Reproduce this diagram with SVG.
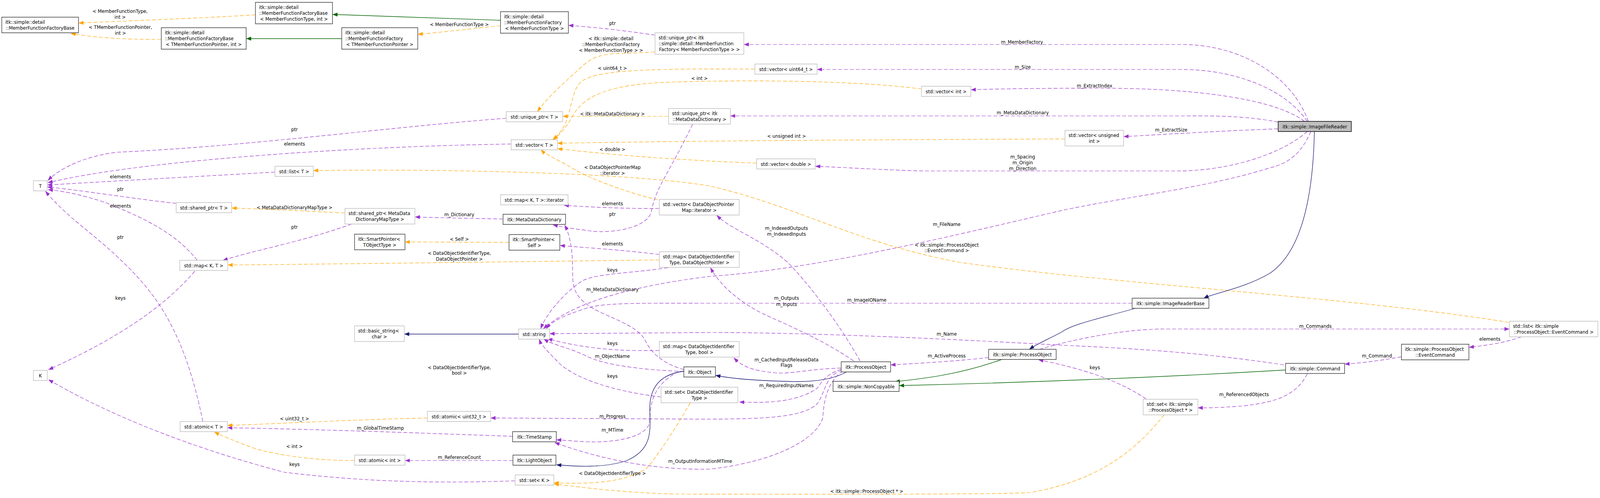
<svg xmlns="http://www.w3.org/2000/svg" width="4504" height="1276" viewBox="0 0 4504 1276">
<defs>
<style>
text{font-family:"DejaVu Sans","Liberation Sans",sans-serif;font-size:12.8px;fill:#000}
.c{text-anchor:middle}
.s{text-anchor:start}
rect,path{vector-effect:non-scaling-stroke}
.nl rect{fill:#fff;stroke:#bfbfbf;stroke-width:1.4}
.nd rect{fill:#fff;stroke:#3c3c3c;stroke-width:1.4}
.nf rect{fill:#bfbfbf;stroke:#000;stroke-width:1.4}
.p{fill:none;stroke:#9a32cd;stroke-width:1.2;stroke-dasharray:10,5;marker-end:url(#ap)}
.o{fill:none;stroke:#ffa500;stroke-width:1.2;stroke-dasharray:10,5;marker-end:url(#ao)}
.g{fill:none;stroke:#006400;stroke-width:1.4;marker-end:url(#ag)}
.b{fill:none;stroke:#191970;stroke-width:1.3;marker-end:url(#ab)}
</style>
<marker id="ap" viewBox="0 0 14 10" refX="13" refY="5" markerWidth="14" markerHeight="10" markerUnits="userSpaceOnUse" orient="auto"><path d="M0,0L14,5L0,10z" fill="#9a32cd"/></marker>
<marker id="ao" viewBox="0 0 14 10" refX="13" refY="5" markerWidth="14" markerHeight="10" markerUnits="userSpaceOnUse" orient="auto"><path d="M0,0L14,5L0,10z" fill="#ffa500"/></marker>
<marker id="ag" viewBox="0 0 14 10" refX="13" refY="5" markerWidth="14" markerHeight="10" markerUnits="userSpaceOnUse" orient="auto"><path d="M0,0L14,5L0,10z" fill="#006400"/></marker>
<marker id="ab" viewBox="0 0 14 10" refX="13" refY="5" markerWidth="14" markerHeight="10" markerUnits="userSpaceOnUse" orient="auto"><path d="M0,0L14,5L0,10z" fill="#191970"/></marker>
</defs>
<rect width="4504" height="1276" fill="#fff"/>
<g id="diagram" transform="scale(0.909414,1)">
<g id="edges">
<path class="o" d="M719,38 C600,45 400,52 222,59"/>
<path class="o" d="M454,101 C360,101 290,99 200,86"/>
<path class="g" d="M1409,52 L937,37"/>
<path class="g" d="M962,99 L694,99"/>
<path class="o" d="M1409,66 C1330,73 1250,82 1177,88"/>
<path class="p" d="M1844,90 C1770,80 1680,70 1601,65"/>
<path class="o" d="M1843,133 C1750,140 1690,128 1645,165 C1590,210 1540,250 1513,286"/>
<path class="p" d="M3683,311 C3640,200 3500,114 3326,114 L2095,114"/>
<path class="o" d="M2125,177 C1800,175 1660,180 1630,215 C1600,250 1612,320 1556,357"/>
<path class="p" d="M3680,311 C3620,230 3480,178 3326,178 L2301,178"/>
<path class="o" d="M2594,228 C2400,205 2100,205 1900,210 C1700,215 1640,250 1610,300 C1595,325 1575,345 1558,358"/>
<path class="p" d="M3672,311 C3600,260 3400,226 3100,226 C2900,226 2800,228 2734,230"/>
<path class="o" d="M1882,298 L1585,298"/>
<path class="p" d="M3598,313 C3500,295 3400,297 3326,297 L2057,297"/>
<path class="p" d="M1425,303 C1100,325 700,375 330,390 C240,400 170,430 135,462"/>
<path class="p" d="M1439,369 C1000,375 400,410 135,468"/>
<path class="p" d="M774,441 C500,455 300,465 134,474"/>
<path class="p" d="M496,521 C380,510 250,490 134,479"/>
<path class="p" d="M555,667 C490,590 380,550 300,520 C220,495 160,488 136,486"/>
<path class="p" d="M571,1080 C520,850 440,760 370,693 C270,600 190,560 128,490"/>
<path class="o" d="M2998,356 C2500,358 2000,360 1570,367"/>
<path class="p" d="M3598,330 C3450,335 3300,343 3164,350"/>
<path class="o" d="M2130,418 C1900,410 1700,395 1570,381"/>
<path class="p" d="M3680,337 C3600,400 3450,438 3316,438 L2600,438 C2500,436 2400,430 2296,426"/>
<path class="o" d="M4247,826 C3800,760 3150,730 2700,672 C2400,620 2250,530 2000,477 C1800,445 1300,432 883,437"/>
<path class="o" d="M1852,512 C1750,490 1640,450 1600,425 C1560,405 1535,395 1523,384"/>
<path class="p" d="M1856,534 C1750,535 1650,530 1588,526"/>
<path class="p" d="M2421,925 C2370,840 2280,730 2218,673 C2140,610 2060,590 2018,552"/>
<path class="p" d="M2403,925 C2300,860 2180,820 2133,797 C2060,760 2020,720 2000,686"/>
<path class="o" d="M1856,666 C1500,670 1000,676 642,679"/>
<path class="p" d="M1856,652 C1750,640 1650,635 1577,629"/>
<path class="o" d="M1433,621 L1141,620"/>
<path class="p" d="M1880,686 C1780,700 1680,700 1638,720 C1590,750 1540,800 1522,842"/>
<path class="p" d="M1416,561 C1330,560 1250,558 1169,556"/>
<path class="p" d="M1950,318 C1880,450 1845,480 1833,545 C1815,590 1700,600 1650,590 C1600,585 1575,580 1557,576"/>
<path class="p" d="M1925,947 C1860,930 1830,900 1815,870 C1790,830 1700,810 1660,785 C1620,760 1612,740 1612,700 C1612,650 1608,610 1590,577"/>
<path class="o" d="M971,546 C850,540 750,536 653,533"/>
<path class="p" d="M990,574 C850,620 720,640 628,667"/>
<path class="p" d="M548,695 C450,800 300,880 137,947"/>
<path class="p" d="M1450,1232 C1200,1240 1000,1232 800,1210 C550,1150 320,1070 137,973"/>
<path class="b" d="M1460,856 L1139,856"/>
<path class="p" d="M3690,337 C3660,400 3620,420 3575,430 C3400,480 3200,500 3000,537 C2700,600 2300,690 2000,708 C1800,730 1620,770 1530,842"/>
<path class="p" d="M1856,898 C1750,900 1650,895 1542,868"/>
<path class="p" d="M1925,952 C1800,947 1700,935 1650,912 C1600,890 1560,885 1531,869"/>
<path class="p" d="M1861,1017 C1700,1000 1600,960 1565,922 C1535,895 1522,880 1518,869"/>
<path class="p" d="M2368,943 C2280,945 2220,960 2180,955 C2120,950 2090,940 2066,917"/>
<path class="b" d="M2383,953 C2340,975 2280,980 2211,977 C2120,975 2060,970 2015,962"/>
<path class="p" d="M2368,946 C2320,960 2310,985 2300,995 C2260,1020 2200,1035 2082,1030"/>
<path class="p" d="M2370,948 C2320,965 2325,1005 2300,1035 C2260,1070 2150,1073 2000,1074 L1382,1071"/>
<path class="p" d="M2372,950 C2330,980 2320,1020 2316,1071 C2300,1120 2200,1180 2000,1202 C1850,1205 1700,1180 1562,1134"/>
<path class="p" d="M1910,952 C1850,980 1829,1020 1829,1080 C1825,1115 1750,1135 1650,1132 C1610,1130 1590,1128 1567,1127"/>
<path class="b" d="M1925,951 C1850,960 1830,1000 1829,1045 C1830,1100 1840,1150 1765,1180 C1700,1200 1620,1195 1567,1191"/>
<path class="p" d="M1443,1118 C1200,1110 900,1100 641,1096"/>
<path class="o" d="M1203,1071 C1000,1075 800,1085 641,1090"/>
<path class="o" d="M998,1180 C900,1180 800,1170 720,1150 C660,1130 620,1115 604,1107"/>
<path class="p" d="M1444,1180 L1141,1180"/>
<path class="o" d="M1943,1032 C1900,1100 1850,1170 1820,1200 C1750,1240 1650,1240 1560,1237"/>
<path class="o" d="M3277,1063 C3200,1150 3100,1230 2900,1262 C2800,1268 2100,1266 1900,1266 C1750,1262 1650,1250 1560,1240"/>
<path class="p" d="M3187,777 L2000,777 C1800,777 1700,775 1650,790 C1600,805 1555,820 1538,842"/>
<path class="b" d="M3196,790 C3100,815 3020,830 2990,850 C2950,870 2920,880 2898,895"/>
<path class="b" d="M3700,337 C3695,560 3640,660 3575,700 C3500,740 3420,750 3389,764"/>
<path class="p" d="M2783,916 C2700,925 2600,930 2508,935"/>
<path class="g" d="M2820,921 C2700,960 2600,970 2520,978"/>
<path class="g" d="M3619,948 C3300,965 2900,980 2532,988"/>
<path class="p" d="M2926,895 C3000,875 3150,843 3280,843 L4248,843"/>
<path class="p" d="M4283,863 C4230,880 4180,885 4136,890"/>
<path class="p" d="M3945,914 C3880,925 3830,930 3786,933"/>
<path class="p" d="M3680,958 C3650,1010 3600,1030 3500,1040 C3430,1045 3400,1045 3373,1045"/>
<path class="p" d="M3226,1022 C3150,975 3050,945 2924,922"/>
<path class="p" d="M3614,935 C3400,905 3200,893 3000,885 C2700,870 2300,852 2000,852 L1548,855"/>
</g>
<g id="edge-labels">
<text class="c" x="338" y="33">&lt; MemberFunctionType,</text><text class="c" x="338" y="48">int &gt;</text>
<text class="c" x="339" y="74">&lt; TMemberFunctionPointer,</text><text class="c" x="339" y="89">int &gt;</text>
<text class="c" x="1293" y="67">&lt; MemberFunctionType &gt;</text>
<text class="c" x="1724" y="64">ptr</text>
<text class="c" x="1720" y="103">&lt; itk::simple::detail</text><text class="c" x="1720" y="118">::MemberFunctionFactory</text><text class="c" x="1720" y="133">&lt; MemberFunctionType &gt; &gt;</text>
<text class="c" x="2877" y="112">m_MemberFactory</text>
<text class="c" x="1724" y="179">&lt; uint64_t &gt;</text>
<text class="c" x="2879" y="176">m_Size</text>
<text class="c" x="1969" y="205">&lt; int &gt;</text>
<text class="c" x="3081" y="224">m_ExtractIndex</text>
<text class="c" x="1724" y="296">&lt; itk::MetaDataDictionary &gt;</text>
<text class="c" x="2879" y="293">m_MetaDataDictionary</text>
<text class="c" x="829" y="336">ptr</text>
<text class="c" x="829" y="373">elements</text>
<text class="c" x="339" y="457">elements</text>
<text class="c" x="339" y="489">ptr</text>
<text class="c" x="339" y="532">elements</text>
<text class="c" x="339" y="612">ptr</text>
<text class="c" x="2214" y="353">&lt; unsigned int &gt;</text>
<text class="c" x="3297" y="337">m_ExtractSize</text>
<text class="c" x="1724" y="387">&lt; double &gt;</text>
<text class="c" x="2879" y="406">m_Spacing</text><text class="c" x="2879" y="421">m_Origin</text><text class="c" x="2879" y="436">m_Direction</text>
<text class="c" x="2665" y="632">&lt; itk::simple::ProcessObject</text><text class="c" x="2665" y="646">::EventCommand &gt;</text>
<text class="c" x="1724" y="433">&lt; DataObjectPointerMap</text><text class="c" x="1724" y="448">::iterator &gt;</text>
<text class="c" x="1724" y="526">elements</text>
<text class="c" x="2214" y="589">m_IndexedOutputs</text><text class="c" x="2214" y="604">m_IndexedInputs</text>
<text class="c" x="2214" y="768">m_Outputs</text><text class="c" x="2214" y="784">m_Inputs</text>
<text class="c" x="1293" y="653">&lt; DataObjectIdentifierType,</text><text class="c" x="1293" y="668">DataObjectPointer &gt;</text>
<text class="c" x="1724" y="629">elements</text>
<text class="c" x="1293" y="617">&lt; Self &gt;</text>
<text class="c" x="1724" y="696">keys</text>
<text class="c" x="1293" y="554">m_Dictionary</text>
<text class="c" x="1724" y="553">ptr</text>
<text class="c" x="1724" y="746">m_MetaDataDictionary</text>
<text class="c" x="829" y="536">&lt; MetaDataDictionaryMapType &gt;</text>
<text class="c" x="829" y="586">ptr</text>
<text class="c" x="339" y="768">keys</text>
<text class="c" x="829" y="1194">keys</text>
<text class="c" x="2665" y="579">m_FileName</text>
<text class="c" x="1724" y="884">keys</text>
<text class="c" x="1724" y="917">m_ObjectName</text>
<text class="c" x="1724" y="968">keys</text>
<text class="c" x="1293" y="946">&lt; DataObjectIdentifierType,</text><text class="c" x="1293" y="960">bool &gt;</text>
<text class="c" x="2214" y="926">m_CachedInputReleaseData</text><text class="c" x="2214" y="940">Flags</text>
<text class="c" x="2214" y="992">m_RequiredInputNames</text>
<text class="c" x="1724" y="1071">m_Progress</text>
<text class="c" x="1971" y="1186">m_OutputInformationMTime</text>
<text class="c" x="1724" y="1106">m_MTime</text>
<text class="c" x="1071" y="1101">m_GlobalTimeStamp</text>
<text class="c" x="829" y="1077">&lt; uint32_t &gt;</text>
<text class="c" x="829" y="1148">&lt; int &gt;</text>
<text class="c" x="1293" y="1176">m_ReferenceCount</text>
<text class="c" x="1724" y="1217">&lt; DataObjectIdentifierType &gt;</text>
<text class="c" x="2440" y="1263">&lt; itk::simple::ProcessObject * &gt;</text>
<text class="c" x="2440" y="773">m_ImageIOName</text>
<text class="c" x="2665" y="916">m_ActiveProcess</text>
<text class="c" x="3703" y="840">m_Commands</text>
<text class="c" x="4194" y="873">elements</text>
<text class="c" x="3876" y="916">m_Command</text>
<text class="c" x="3502" y="1015">m_ReferencedObjects</text>
<text class="c" x="3082" y="946">keys</text>
<text class="c" x="2665" y="860">m_Name</text>
</g>
<g id="n_A" class="nd"><rect x="5" y="44" width="216" height="40"/><text class="s" x="15" y="61.5">itk::simple::detail</text><text class="c" x="113" y="76.5">::MemberFunctionFactoryBase</text></g>
<g id="n_B" class="nd"><rect x="719" y="6" width="217" height="55"/><text class="s" x="729" y="23.5">itk::simple::detail</text><text class="s" x="729" y="38.5">::MemberFunctionFactoryBase</text><text class="c" x="827.5" y="53.5">&lt; MemberFunctionType, int &gt;</text></g>
<g id="n_C" class="nd"><rect x="454" y="71" width="239" height="55"/><text class="s" x="464" y="88.5">itk::simple::detail</text><text class="s" x="464" y="103.5">::MemberFunctionFactoryBase</text><text class="c" x="573.5" y="118.5">&lt; TMemberFunctionPointer, int &gt;</text></g>
<g id="n_D" class="nd"><rect x="962" y="71" width="214" height="55"/><text class="s" x="972" y="88.5">itk::simple::detail</text><text class="s" x="972" y="103.5">::MemberFunctionFactory</text><text class="c" x="1069" y="118.5">&lt; TMemberFunctionPointer &gt;</text></g>
<g id="n_E" class="nd"><rect x="1409" y="30" width="191" height="55"/><text class="s" x="1419" y="47.5">itk::simple::detail</text><text class="s" x="1419" y="62.5">::MemberFunctionFactory</text><text class="c" x="1504.5" y="77.5">&lt; MemberFunctionType &gt;</text></g>
<g id="n_F" class="nl"><rect x="1844" y="84" width="250" height="55"/><text class="s" x="1854" y="101.5">std::unique_ptr&lt; itk</text><text class="s" x="1854" y="116.5">::simple::detail::MemberFunction</text><text class="c" x="1969" y="131.5">Factory&lt; MemberFunctionType &gt; &gt;</text></g>
<g id="n_G" class="nl"><rect x="1425" y="286" width="159" height="26"/><text class="c" x="1504.5" y="304">std::unique_ptr&lt; T &gt;</text></g>
<g id="n_H" class="nl"><rect x="1882" y="278" width="174" height="40"/><text class="s" x="1892" y="295.5">std::unique_ptr&lt; itk</text><text class="c" x="1969" y="310.5">::MetaDataDictionary &gt;</text></g>
<g id="n_Vu64" class="nl"><rect x="2125" y="164" width="175" height="26"/><text class="c" x="2212.5" y="182">std::vector&lt; uint64_t &gt;</text></g>
<g id="n_Vint" class="nl"><rect x="2594" y="221" width="139" height="26"/><text class="c" x="2663.5" y="239">std::vector&lt; int &gt;</text></g>
<g id="n_IFR" class="nf"><rect x="3598" y="311" width="206" height="26"/><text class="c" x="3701" y="329">itk::simple::ImageFileReader</text></g>
<g id="n_Vui" class="nl"><rect x="2998" y="334" width="165" height="40"/><text class="s" x="3008" y="351.5">std::vector&lt; unsigned</text><text class="c" x="3080.5" y="366.5">int &gt;</text></g>
<g id="n_Vd" class="nl"><rect x="2130" y="407" width="165" height="26"/><text class="c" x="2212.5" y="425">std::vector&lt; double &gt;</text></g>
<g id="n_VT" class="nl"><rect x="1439" y="358" width="130" height="26"/><text class="c" x="1504" y="376">std::vector&lt; T &gt;</text></g>
<g id="n_T" class="nl"><rect x="94" y="463" width="39" height="26"/><text class="c" x="113.5" y="481">T</text></g>
<g id="n_ListT" class="nl"><rect x="774" y="426" width="108" height="26"/><text class="c" x="828" y="444">std::list&lt; T &gt;</text></g>
<g id="n_SpT" class="nl"><rect x="496" y="519" width="156" height="26"/><text class="c" x="574" y="537">std::shared_ptr&lt; T &gt;</text></g>
<g id="n_MapKT" class="nl"><rect x="506" y="667" width="135" height="26"/><text class="c" x="573.5" y="685">std::map&lt; K, T &gt;</text></g>
<g id="n_SpMDD" class="nl"><rect x="971" y="534" width="197" height="40"/><text class="s" x="981" y="551.5">std::shared_ptr&lt; MetaData</text><text class="c" x="1069.5" y="566.5">DictionaryMapType &gt;</text></g>
<g id="n_SPTO" class="nd"><rect x="998" y="600" width="142" height="40"/><text class="s" x="1008" y="617.5">itk::SmartPointer&lt;</text><text class="c" x="1069" y="632.5">TObjectType &gt;</text></g>
<g id="n_MapIt" class="nl"><rect x="1409" y="499" width="190" height="26"/><text class="c" x="1504" y="517">std::map&lt; K, T &gt;::iterator</text></g>
<g id="n_MDD" class="nd"><rect x="1416" y="549" width="176" height="26"/><text class="c" x="1504" y="567">itk::MetaDataDictionary</text></g>
<g id="n_SPSelf" class="nd"><rect x="1433" y="601" width="143" height="40"/><text class="s" x="1443" y="618.5">itk::SmartPointer&lt;</text><text class="c" x="1504.5" y="633.5">Self &gt;</text></g>
<g id="n_VDOPM" class="nl"><rect x="1856" y="511" width="225" height="40"/><text class="s" x="1866" y="528.5">std::vector&lt; DataObjectPointer</text><text class="c" x="1968.5" y="543.5">Map::iterator &gt;</text></g>
<g id="n_MapDOP" class="nl"><rect x="1856" y="645" width="225" height="40"/><text class="s" x="1866" y="662.5">std::map&lt; DataObjectIdentifier</text><text class="c" x="1968.5" y="677.5">Type, DataObjectPointer &gt;</text></g>
<g id="n_K" class="nl"><rect x="94" y="949" width="39" height="26"/><text class="c" x="113.5" y="967">K</text></g>
<g id="n_AtT" class="nl"><rect x="507" y="1080" width="133" height="26"/><text class="c" x="573.5" y="1098">std::atomic&lt; T &gt;</text></g>
<g id="n_BStr" class="nl"><rect x="998" y="835" width="140" height="40"/><text class="s" x="1008" y="852.5">std::basic_string&lt;</text><text class="c" x="1068" y="867.5">char &gt;</text></g>
<g id="n_Str" class="nl"><rect x="1460" y="843" width="87" height="26"/><text class="c" x="1503.5" y="861">std::string</text></g>
<g id="n_MapDB" class="nl"><rect x="1856" y="875" width="225" height="40"/><text class="s" x="1866" y="892.5">std::map&lt; DataObjectIdentifier</text><text class="c" x="1968.5" y="907.5">Type, bool &gt;</text></g>
<g id="n_Obj" class="nd"><rect x="1925" y="940" width="89" height="26"/><text class="c" x="1969.5" y="958">itk::Object</text></g>
<g id="n_SetDOI" class="nl"><rect x="1861" y="992" width="216" height="40"/><text class="s" x="1871" y="1009.5">std::set&lt; DataObjectIdentifier</text><text class="c" x="1969" y="1024.5">Type &gt;</text></g>
<g id="n_AtU32" class="nl"><rect x="1203" y="1054" width="178" height="26"/><text class="c" x="1292" y="1072">std::atomic&lt; uint32_t &gt;</text></g>
<g id="n_TS" class="nd"><rect x="1443" y="1106" width="123" height="26"/><text class="c" x="1504.5" y="1124">itk::TimeStamp</text></g>
<g id="n_AtInt" class="nl"><rect x="998" y="1166" width="142" height="26"/><text class="c" x="1069" y="1184">std::atomic&lt; int &gt;</text></g>
<g id="n_LO" class="nd"><rect x="1444" y="1166" width="121" height="26"/><text class="c" x="1504.5" y="1184">itk::LightObject</text></g>
<g id="n_SetK" class="nl"><rect x="1450" y="1217" width="109" height="26"/><text class="c" x="1504.5" y="1235">std::set&lt; K &gt;</text></g>
<g id="n_PO" class="nd"><rect x="2368" y="927" width="139" height="26"/><text class="c" x="2437.5" y="945">itk::ProcessObject</text></g>
<g id="n_NC" class="nd"><rect x="2345" y="977" width="186" height="26"/><text class="c" x="2438" y="995">itk::simple::NonCopyable</text></g>
<g id="n_SPO" class="nd"><rect x="2783" y="895" width="190" height="26"/><text class="c" x="2878" y="913">itk::simple::ProcessObject</text></g>
<g id="n_IRB" class="nd"><rect x="3187" y="764" width="216" height="26"/><text class="c" x="3295" y="782">itk::simple::ImageReaderBase</text></g>
<g id="n_ListEC" class="nl"><rect x="4249" y="823" width="249" height="40"/><text class="s" x="4259" y="840.5">std::list&lt; itk::simple</text><text class="c" x="4373.5" y="855.5">::ProcessObject::EventCommand &gt;</text></g>
<g id="n_EC" class="nd"><rect x="3945" y="882" width="190" height="40"/><text class="s" x="3955" y="899.5">itk::simple::ProcessObject</text><text class="c" x="4040" y="914.5">::EventCommand</text></g>
<g id="n_Cmd" class="nd"><rect x="3619" y="931" width="166" height="26"/><text class="c" x="3702" y="949">itk::simple::Command</text></g>
<g id="n_SetPO" class="nl"><rect x="3218" y="1023" width="154" height="40"/><text class="s" x="3228" y="1040.5">std::set&lt; itk::simple</text><text class="c" x="3295" y="1055.5">::ProcessObject * &gt;</text></g>
</g>
</svg>
